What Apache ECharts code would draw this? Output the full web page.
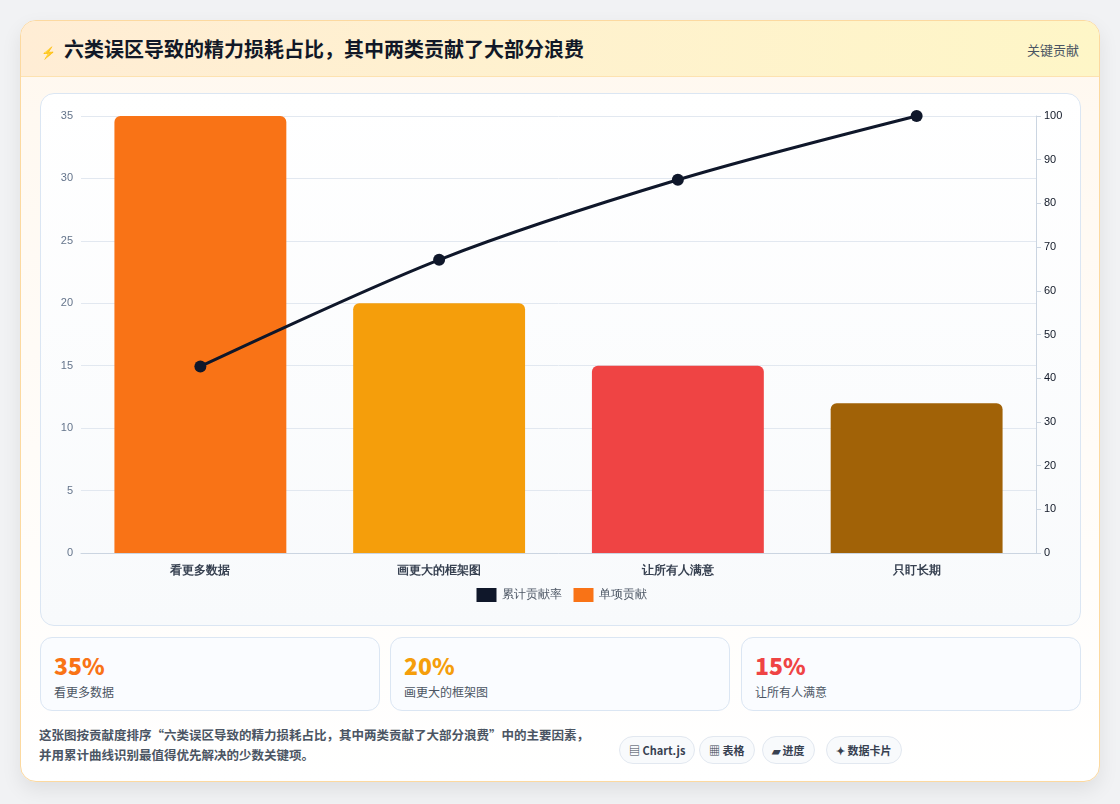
<!DOCTYPE html>
<html><head><meta charset="utf-8">
<script src="https://cdn.jsdelivr.net/npm/echarts@6/dist/echarts.min.js"></script>
<style>
*{box-sizing:border-box}
body{margin:0;width:1120px;height:804px;background:#f1f2f4;font-family:"Noto Sans CJK SC","Noto Sans",sans-serif;overflow:hidden}
.card{position:absolute;left:20px;top:20px;width:1080px;height:762px;border:1px solid #fcd9a0;border-radius:16px;background:linear-gradient(#fff8ef,#fff);box-shadow:0 8px 20px rgba(0,0,0,0.08);overflow:hidden}
.head{height:56px;background:linear-gradient(90deg,#ffedd5,#fef6c7);border-bottom:1px solid #fde2b0;position:relative}
.title{position:absolute;left:20px;top:13px;font-size:20px;font-weight:700;color:#111827}
.title .ic{color:#4f6bd8;font-size:12px;margin-right:8px}
.tag{position:absolute;right:20px;top:19px;font-size:13px;color:#4b5563}
.panel{position:absolute;left:19px;top:72px;width:1041px;height:533px;border:1px solid #dbe6f3;border-radius:14px;background:linear-gradient(#fff,#f8fafc)}
#chart{position:absolute;left:0;top:0;width:1041px;height:533px}
.stat{position:absolute;top:616px;width:340px;height:74px;border:1px solid #dbe6f3;border-radius:12px;background:#fafcff}
.stat .v{position:absolute;left:13px;top:10px;font-size:23px;font-weight:800}
.stat .l{position:absolute;left:13px;top:45px;font-size:12px;color:#4b5563}
.desc{position:absolute;left:18px;top:704px;font-size:12.5px;line-height:20px;color:#4b5563;font-weight:600}
.pill{position:absolute;top:715px;height:28px;border:1px solid #e2e8f0;border-radius:14px;background:#f8fafc;font-size:11px;font-weight:700;color:#374151;line-height:26px;padding:0 9px}
</style></head><body>
<div class="card">
 <div class="head"><div class="title"><span class="ic">⚡</span>六类误区导致的精力损耗占比，其中两类贡献了大部分浪费</div><div class="tag">关键贡献</div></div>
 <div class="panel"><div id="chart"></div></div>
 <div class="stat" style="left:19px"><div class="v" style="color:#f97316">35%</div><div class="l">看更多数据</div></div>
 <div class="stat" style="left:369px"><div class="v" style="color:#f59e0b">20%</div><div class="l">画更大的框架图</div></div>
 <div class="stat" style="left:720px"><div class="v" style="color:#ef4444">15%</div><div class="l">让所有人满意</div></div>
 <div class="desc">这张图按贡献度排序“六类误区导致的精力损耗占比，其中两类贡献了大部分浪费”中的主要因素，<br>并用累计曲线识别最值得优先解决的少数关键项。</div>
 <div class="pill" style="left:598px">▤ Chart.js</div>
 <div class="pill" style="left:678px">▦ 表格</div>
 <div class="pill" style="left:741px">▰ 进度</div>
 <div class="pill" style="left:805px">✦ 数据卡片</div>
</div>
<script>
const categories=["看更多数据","画更大的框架图","让所有人满意","只盯长期"];
const values=[35,20,15,12];
const cumulative=[42.7,67.1,85.4,100];
const barColors=["#f97316","#f59e0b","#ef4444","#a16207"];
const chart=echarts.init(document.getElementById('chart'));
chart.setOption({
 animation:false,
 grid:{left:40,right:46,top:22,bottom:74},
 legend:{bottom:20,itemWidth:20,itemHeight:14,itemGap:12,textStyle:{fontSize:12,color:'#4b5563'},
  data:[{name:'累计贡献率',icon:'rect',itemStyle:{color:'#0f172a'}},{name:'单项贡献',icon:'rect',itemStyle:{color:'#f97316'}}]},
 xAxis:{type:'category',data:categories,axisTick:{show:false},axisLine:{lineStyle:{color:'#cbd5e1'}},
  axisLabel:{fontSize:12,fontWeight:600,color:'#374151',margin:12}},
 yAxis:[
  {type:'value',min:0,max:35,interval:5,axisLabel:{fontSize:11,color:'#64748b'},splitLine:{lineStyle:{color:'#e2e8f0'}},axisLine:{show:false}},
  {type:'value',min:0,max:100,interval:10,position:'right',axisLabel:{fontSize:11,color:'#111827'},splitLine:{show:false},axisLine:{show:true,lineStyle:{color:'#cbd5e1'}},axisTick:{show:true,lineStyle:{color:'#cbd5e1'}}}
 ],
 series:[
  {name:'单项贡献',type:'bar',barWidth:'72%',data:values.map((v,i)=>({value:v,itemStyle:{color:barColors[i],borderRadius:[6,6,0,0]}}))},
  {name:'累计贡献率',type:'line',yAxisIndex:1,data:cumulative,smooth:0.3,symbol:'circle',symbolSize:12,lineStyle:{color:'#0f172a',width:3},itemStyle:{color:'#0f172a'},z:5}
 ]
});
</script>
</body></html>
